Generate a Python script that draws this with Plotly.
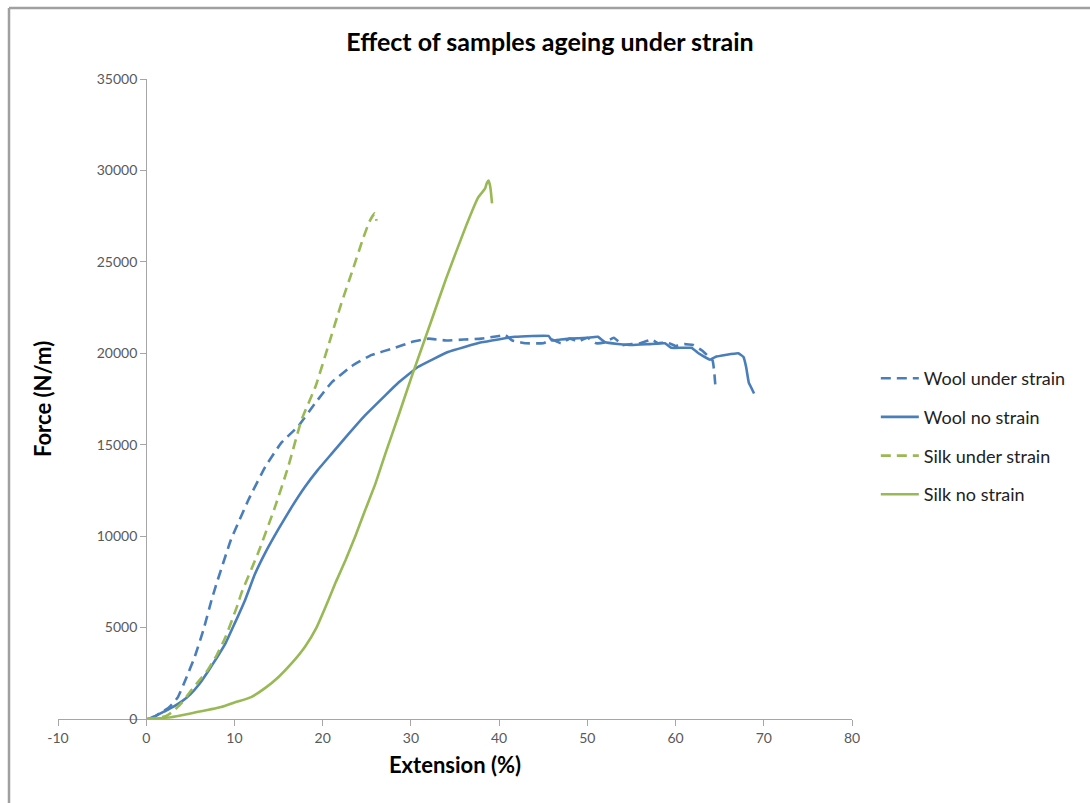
import plotly.graph_objects as go

# ---- data ----
wool_strain_x = [0.5, 1.5, 2.5, 3.0, 3.6, 4.5, 5.5, 6.5, 7.4, 7.9, 9.6, 11.6, 13.5, 15.3, 17.2, 19.2, 21.0,
                 23.3, 25.5, 28.2, 30, 32, 34, 36, 38, 40, 40.7, 41.5, 43, 45, 46, 47, 48, 49, 50, 51,
                 52, 53, 54, 55, 56, 57.3, 58, 59, 60, 61, 62, 63, 64.2, 64.4, 64.5]
wool_strain_y = [0, 300, 600, 850, 1200, 2200, 3400, 4900, 6500, 7300, 9800, 12000, 13800, 15100, 16000, 17300,
                 18400, 19300, 19900, 20300, 20600, 20800, 20700, 20750, 20800, 20950, 21000, 20700, 20550,
                 20550, 20750, 20550, 20800, 20650, 20850, 20550, 20600, 20850, 20450, 20500, 20550, 20750,
                 20550, 20600, 20400, 20500, 20450, 20150, 19600, 18900, 18300]

wool_nostrain_x = [0.2, 1, 2, 3, 4, 5, 6, 7, 8, 9, 10, 11.2, 12.3, 13.5, 15.0, 16.5, 18.0, 19.5, 21.0, 22.6,
                   24.8, 27.1, 28.6, 30.8, 34.2, 38.0, 41.8, 45.6, 46.0, 47, 48, 50, 51.2, 52, 55, 57, 58.8,
                   59.5, 61.8, 62.6, 63.9, 64.5, 67.1, 67.7, 68.0, 68.3, 68.6, 68.9]
wool_nostrain_y = [0, 150, 400, 650, 950, 1350, 1900, 2600, 3350, 4150, 5200, 6500, 7900, 9100, 10400, 11600,
                   12700, 13650, 14500, 15400, 16600, 17700, 18400, 19250, 20070, 20600, 20900, 20950, 20700,
                   20750, 20800, 20850, 20900, 20600, 20450, 20500, 20550, 20300, 20300, 20000, 19650, 19800,
                   20000, 19800, 19250, 18400, 18100, 17800]

silk_strain_x = [0, 1, 2.2, 3, 4, 5, 6, 7, 8, 9, 10.4, 10.8, 12.7, 14.6, 16.1, 17.6, 19.2, 20.6, 22.1, 23.5,
                 24.6, 25.3, 25.9, 26.1]
silk_strain_y = [0, 50, 150, 400, 870, 1500, 2100, 2700, 3500, 4500, 6300, 6900, 9100, 11600, 13800, 16350,
                 18200, 20350, 22700, 24700, 26300, 27200, 27650, 27250]

silk_nostrain_x = [0, 2.8, 5, 8.5, 10, 11.9, 13.5, 15, 16.5, 18, 19.3, 20.3, 21.5, 22.6, 23.7, 24.8, 26, 27.1,
                   28.6, 30, 31.2, 32.3, 34, 36.2, 37.6, 38.0, 38.4, 38.6, 38.8, 39.0, 39.2]
silk_nostrain_y = [0, 100, 300, 650, 900, 1200, 1700, 2300, 3050, 3950, 5000, 6100, 7500, 8700, 10000, 11400,
                   12900, 14500, 16600, 18600, 20250, 21750, 24100, 26900, 28500, 28750, 29000, 29300, 29450,
                   29100, 28200]

series_names = ["Wool under strain", "Wool no strain", "Silk under strain", "Silk no strain"]
x_ticks = [-10, 0, 10, 20, 30, 40, 50, 60, 70, 80]
x_tick_labels = ["-10", "0", "10", "20", "30", "40", "50", "60", "70", "80"]
y_ticks = [0, 5000, 10000, 15000, 20000, 25000, 30000, 35000]
y_tick_labels = ["0", "5000", "10000", "15000", "20000", "25000", "30000", "35000"]

BLUE = "#4a7ebb"
GREEN = "#98b954"
FONT = "Lato, 'Open Sans', sans-serif"

fig = go.Figure()
specs = [
    (wool_strain_x, wool_strain_y, BLUE, "10px,6px", 0.3),
    (wool_nostrain_x, wool_nostrain_y, BLUE, "solid", 0.3),
    (silk_strain_x, silk_strain_y, GREEN, "10px,6px", 0.5),
    (silk_nostrain_x, silk_nostrain_y, GREEN, "solid", 0.5),
]
for name, (xs, ys, col, dash, sm) in zip(series_names, specs):
    fig.add_trace(go.Scatter(x=xs, y=ys, mode="lines", name=name, legendgroup=name,
                             line=dict(color=col, width=2.6, dash=dash, shape="spline", smoothing=sm)))

fig.update_layout(
    width=1090, height=803,
    margin=dict(l=58, r=238, t=79, b=84),
    paper_bgcolor="white", plot_bgcolor="white",
    font=dict(family=FONT, color="#404040"),
    title=dict(text="Effect of samples ageing under strain", x=0.5046, xref="container", xanchor="center",
               y=1 - 42 / 803, yref="container", yanchor="middle",
               font=dict(family=FONT, size=25, color="#000000", weight="bold")),
    showlegend=True,
    legend=dict(x=1.03, xanchor="left", y=(719 - 360) / 640, yanchor="top",
                traceorder="grouped", tracegroupgap=12.3, itemwidth=38,
                font=dict(family=FONT, size=18, color="#222222"),
                bgcolor="rgba(0,0,0,0)"),
    xaxis=dict(range=[-10, 80], tickvals=x_ticks, ticktext=x_tick_labels, showgrid=False, zeroline=False,
               showline=True, linecolor="#a6a6a6", linewidth=1.2,
               ticks="outside", ticklen=6, tickcolor="#a6a6a6",
               tickfont=dict(family=FONT, size=14, color="#595959"),
               title=dict(text="Extension (%)", standoff=12,
                          font=dict(family=FONT, size=22, color="#000000", weight="bold"))),
    yaxis=dict(range=[0, 35000], tickvals=y_ticks, ticktext=y_tick_labels, showgrid=False, zeroline=False,
               anchor="free", position=10 / 90,
               showline=True, linecolor="#a6a6a6", linewidth=1.2,
               ticks="outside", ticklen=6, tickcolor="#a6a6a6",
               tickfont=dict(family=FONT, size=14, color="#595959")),
    annotations=[dict(text="Force (N/m)", textangle=-90, xref="paper", yref="paper",
                      x=(42 - 58) / 794, y=0.5, xanchor="center", yanchor="middle", showarrow=False,
                      font=dict(family=FONT, size=22, color="#000000", weight="bold"))],
    shapes=[
        dict(type="line", xref="paper", yref="paper", x0=(9 - 58) / 794, x1=(1090 - 58) / 794,
             y0=(719 - 8) / 640, y1=(719 - 8) / 640, line=dict(color="#a0a0a0", width=2.5)),
        dict(type="line", xref="paper", yref="paper", x0=(9 - 58) / 794, x1=(9 - 58) / 794,
             y0=(719 - 8) / 640, y1=(719 - 803) / 640, line=dict(color="#a0a0a0", width=2.5)),
    ],
)

fig.write_html("out.html")
